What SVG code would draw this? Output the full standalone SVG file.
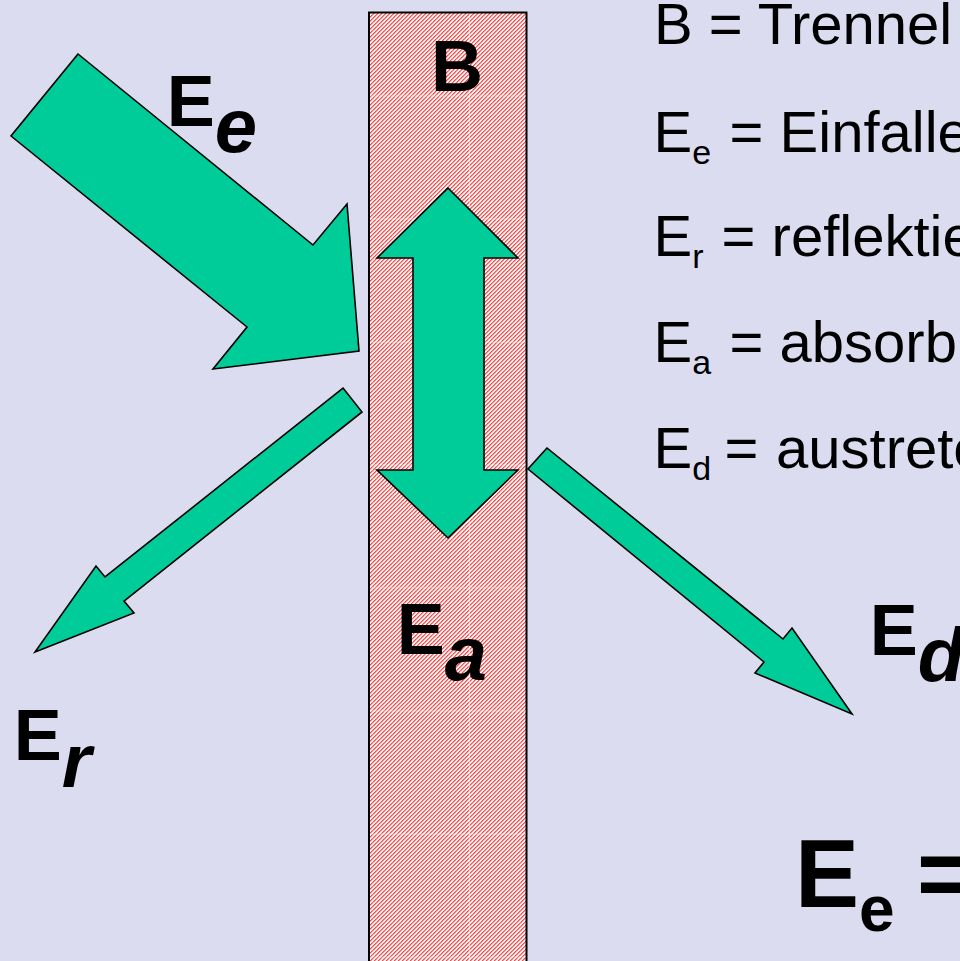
<svg xmlns="http://www.w3.org/2000/svg" width="960" height="961" viewBox="0 0 960 961">
  <defs>
    <pattern id="hatch" patternUnits="userSpaceOnUse" x="0" y="0" width="4" height="4">
      <rect x="0" y="0" width="4" height="4" fill="#ffffff"/>
      <polygon points="0,2.5 2.5,0 4,0 0,4" fill="#ff2a2a"/>
      <polygon points="2.5,4 4,2.5 4,4" fill="#ff2a2a"/>
    </pattern>
    <style>
      .bg { fill: #dcdcf0; }
      .arrow { fill: #00cc99; stroke: #000000; stroke-width: 1.6; stroke-linejoin: miter; }
      .lbl { font-family: "Liberation Sans", Arial, sans-serif; font-weight: bold; font-size: 72px; fill: #000000; }
      .sub { font-style: italic; font-size: 76px; }
      .leg { font-family: "Liberation Sans", Arial, sans-serif; font-size: 58px; fill: #000000; }
      .legsub { font-size: 34px; }
      .seam { stroke: #ffffff; stroke-width: 1; opacity: 0.45; }
    </style>
  </defs>

  <rect class="bg" x="0" y="0" width="960" height="961"/>

  <g id="barrier">
    <rect x="369" y="12.5" width="157.5" height="960" fill="url(#hatch)" stroke="#000000" stroke-width="2"/>
    <line class="seam" x1="469.5" y1="13.5" x2="469.5" y2="961"/>
    <line class="seam" x1="370" y1="96" x2="526" y2="96"/>
    <line class="seam" x1="370" y1="219" x2="526" y2="219"/>
    <line class="seam" x1="370" y1="342" x2="526" y2="342"/>
    <line class="seam" x1="370" y1="465" x2="526" y2="465"/>
    <line class="seam" x1="370" y1="588" x2="526" y2="588"/>
    <line class="seam" x1="370" y1="711" x2="526" y2="711"/>
    <line class="seam" x1="370" y1="834" x2="526" y2="834"/>
    <line class="seam" x1="370" y1="957" x2="526" y2="957"/>
    <text class="lbl" x="431" y="91">B</text>
  </g>

  <g id="connectors">
    <polygon id="arrow-ee" class="arrow" points="78,54 11,136 247,327 213,369 359,351 347,204 313,245"/>
    <polygon id="arrow-er" class="arrow" points="343,388 362,412 124,601 134,613 35,652 96,566 105,577"/>
    <polygon id="arrow-ed" class="arrow" points="547,448 528,469 764,662 755,673 852,714 792,628 783,639"/>
    <polygon id="arrow-ea" class="arrow" stroke-width="2" points="448,188 518,258 484,258 484,470 518,470 448,538 377,470 413,470 413,258 377,258"/>
  </g>

  <g id="label-ee">
    <text class="lbl" x="166.7" y="126">E<tspan class="sub" dy="26">e</tspan></text>
  </g>
  <g id="label-er">
    <text class="lbl" x="13.7" y="760">E<tspan class="sub" dy="27">r</tspan></text>
  </g>
  <g id="label-ea">
    <text class="lbl" x="396.7" y="654">E<tspan class="sub" dy="26">a</tspan></text>
  </g>
  <g id="label-ed">
    <text class="lbl" x="869.7" y="655">E<tspan class="sub" dy="26">d</tspan></text>
  </g>

  <g id="legend">
    <text class="leg" x="654" y="44">B = Trennel</text>
    <text class="leg" x="653.5" y="152">E<tspan class="legsub" dy="12">e</tspan><tspan x="729.6" dy="-12">= Einfalle</tspan></text>
    <text class="leg" x="653.5" y="256">E<tspan class="legsub" dy="12">r</tspan><tspan x="721.6" dy="-12">= reflektie</tspan></text>
    <text class="leg" x="653.5" y="362">E<tspan class="legsub" dy="12">a</tspan><tspan x="729.6" dy="-12">= absorb</tspan></text>
    <text class="leg" x="653.5" y="468">E<tspan class="legsub" dy="12">d</tspan><tspan x="724.6" dy="-12">=</tspan><tspan x="776">austrete</tspan></text>
  </g>

  <g id="formula">
    <text font-family="Liberation Sans, Arial, sans-serif" font-weight="bold" font-size="96" x="795" y="907">E<tspan font-size="64" dy="24">e</tspan><tspan x="917" dy="-24">=</tspan></text>
  </g>
</svg>
